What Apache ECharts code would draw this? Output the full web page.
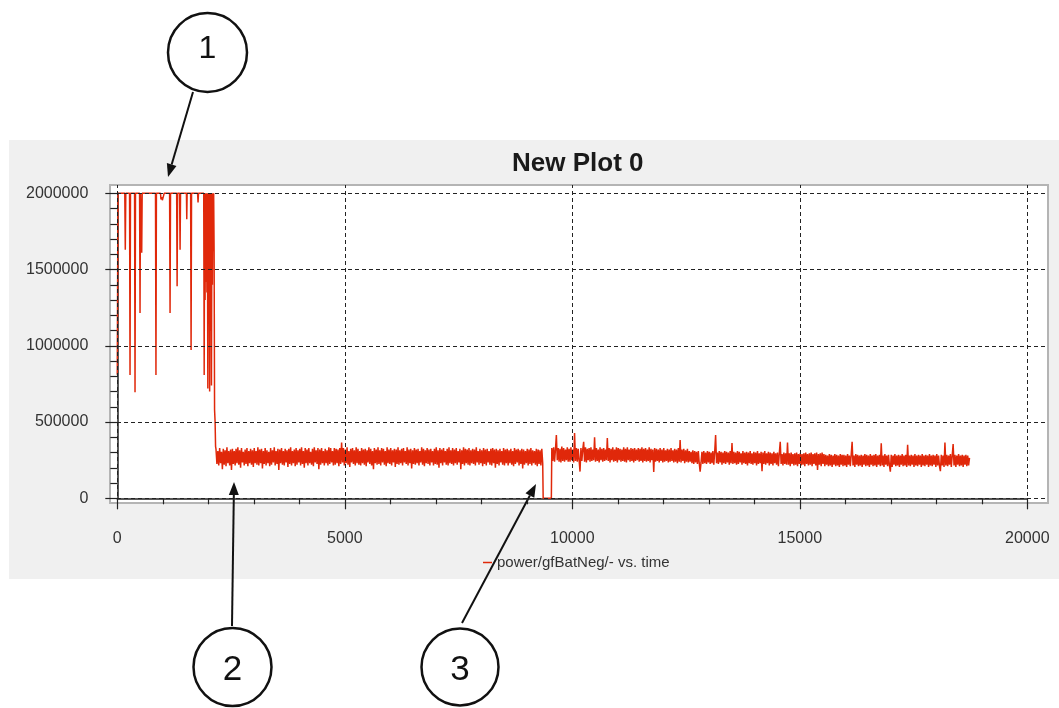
<!DOCTYPE html>
<html><head><meta charset="utf-8">
<script src="https://cdn.jsdelivr.net/npm/echarts@6/dist/echarts.min.js"></script>
<style>html,body{margin:0;padding:0;background:#fff;}#c{width:1059px;height:708px;}</style>
</head><body><div id="c"></div>
<script>
// ---- data ----
const seriesName = 'power/gfBatNeg/- vs. time';
// start-up phase: saturated at 2,000,000 with dips
const rampTime = [0,15,165,176,187,270,280,290,380,390,400,490,500,510,527,537,547,840,850,860,
  950,960,975,990,1005,1020,1030,1150,1160,1170,1305,1315,1325,1370,1380,1390,1520,1527,1535,
  1612,1622,1632,1765,1775,1785,1900,1910,1920,1930,1940,1950,1960,1970,1980,1990,2000,2010,
  2020,2030,2040,2050,2060,2070,2080,2090,2100,2110,2118,2128,2138,2150,2160];
const rampPower = [810000,2000000,2000000,1630000,2000000,2000000,808000,2000000,2000000,695000,2000000,
  2000000,1215000,2000000,2000000,1610000,2000000,2000000,808000,2000000,
  2000000,1960000,1975000,1955000,1970000,1960000,2000000,2000000,1215000,2000000,2000000,1390000,2000000,
  2000000,1630000,2000000,2000000,1830000,2000000,2000000,972000,2000000,2000000,1940000,2000000,
  2000000,808000,2000000,1300000,2000000,1420000,2000000,1350000,2000000,720000,2000000,1300000,
  2000000,700000,2000000,1100000,2000000,740000,2000000,1400000,2000000,1620000,2000000,1620000,580000,500000,340000];
// first noisy phase (samples every 20 time units from 2170), values in thousands
const noiseAStart = 2170;
const noiseAStep = 20;
const noiseAPowerK = [
  320,225,310,215,330,230,305,190,325,220,315,210,335,230,310,215,320,185,325,225,
  310,215,325,230,335,220,315,200,330,235,305,215,320,225,330,210,310,230,325,220,
  315,205,330,230,310,220,335,215,320,230,325,195,310,225,330,215,315,230,305,210,
  330,220,315,235,335,215,310,225,325,185,320,230,330,220,310,215,325,235,315,205,
  325,225,335,215,310,230,320,210,330,220,315,235,325,215,335,225,310,200,330,230,
  320,215,330,230,305,220,325,210,335,235,315,225,330,190,320,220,330,230,310,215,
  325,230,315,215,335,225,330,235,310,215,330,220,325,230,320,210,330,225,365,235,
  330,215,320,230,335,220,310,205,325,235,330,225,315,215,335,230,325,220,310,215,
  330,230,320,220,325,210,315,235,335,225,325,215,310,190,330,230,320,220,335,225,
  315,215,330,235,325,220,310,210,335,230,320,225,330,215,315,235,325,205,320,225,
  335,220,315,230,325,215,330,235,310,225,335,215,320,230,325,195,315,225,330,220,
  320,230,325,215,310,235,335,220,325,210,315,230,330,225,320,215,325,235,310,215,
  325,225,335,220,315,200,330,230,320,215,330,235,310,220,325,215,335,230,315,225,
  330,215,320,230,330,220,310,235,325,190,315,225,335,215,325,230,320,220,330,215,
  315,230,325,225,320,215,335,235,310,220,325,230,315,210,330,225,320,215,325,235,
  310,220,325,215,330,230,320,200,325,225,315,215,325,235,310,220,330,215,320,230,
  325,215,315,230,325,220,310,210,330,225,320,235,325,215,315,225,325,195,320,220,
  310,230,325,215,320,225,330,215,315,230,310,220,325,210,320,225,315,215,325,230];
// drop-out to zero
const gapTime = [9360, 9540];
const gapPower = [0, 0];
// second noisy phase (samples every 20 time units from 9550), values in thousands
const noiseBStart = 9550;
const noiseBStep = 20;
const noiseBPowerK = [
  330,245,335,240,320,415,250,330,240,325,235,340,245,330,240,320,250,335,240,325,
  240,335,250,320,235,428,245,330,240,325,250,175,330,245,320,370,240,335,235,325,
  250,330,240,335,245,320,250,400,240,330,245,320,235,335,250,325,240,330,245,320,
  250,395,245,330,235,325,250,335,240,320,245,335,235,330,250,325,240,320,245,335,
  240,325,235,335,250,320,240,330,245,325,235,330,245,320,250,330,240,325,245,335,
  235,325,245,330,240,320,245,335,235,325,250,320,172,330,240,325,245,320,235,330,
  245,320,235,330,240,315,245,325,235,320,240,330,245,315,235,325,240,320,230,330,
  240,382,235,320,245,325,230,315,240,325,235,310,240,305,230,315,225,310,235,305,
  225,310,230,175,235,305,225,310,230,300,225,310,235,305,225,300,230,310,220,305,
  415,230,300,225,310,235,305,220,300,230,310,225,305,235,300,220,310,230,362,225,
  305,230,300,220,310,225,305,235,295,220,310,230,300,225,305,215,300,230,310,225,
  295,220,305,230,300,215,310,225,295,230,305,178,300,225,310,220,295,230,305,215,
  300,225,295,215,305,230,295,220,300,210,295,370,225,290,215,300,225,295,220,365,
  220,295,210,300,225,290,215,295,220,300,210,290,225,295,215,290,220,295,210,300,
  225,290,215,295,220,300,210,290,225,295,215,300,185,290,220,295,210,300,225,290,
  210,285,220,280,210,290,215,285,205,280,220,290,210,285,215,280,205,290,220,285,
  210,285,215,280,205,290,220,280,210,285,370,215,280,205,290,220,285,210,280,215,
  285,205,280,220,290,210,285,215,280,205,290,220,280,210,285,215,290,205,280,220,
  285,210,360,215,280,205,290,220,280,210,285,215,175,285,205,280,220,290,210,280,
  215,285,205,280,220,290,210,280,215,285,205,350,215,280,210,285,220,280,205,290,
  215,280,210,285,220,280,205,290,215,280,210,285,220,280,205,290,215,280,210,285,
  220,280,205,290,215,280,210,178,285,215,280,205,365,215,285,210,280,220,290,205,
  280,355,215,285,205,280,220,290,210,280,215,285,205,280,220,285,210,280,215,265];
const xTicks = [0, 5000, 10000, 15000, 20000];
const yTicks = [0, 500000, 1000000, 1500000, 2000000];

// ---- build series data ----
const data = [];
rampTime.forEach((t, i) => data.push([t, rampPower[i]]));
noiseAPowerK.forEach((v, i) => data.push([noiseAStart + i * noiseAStep, v * 1000]));
gapTime.forEach((t, i) => data.push([t, gapPower[i]]));
noiseBPowerK.forEach((v, i) => data.push([noiseBStart + i * noiseBStep, v * 1000]));

const FONT = '"Liberation Sans", Arial, sans-serif';
const RED = '#e0280a';

function arrow(x1, y1, x2, y2) {
  const dx = x2 - x1, dy = y2 - y1, len = Math.hypot(dx, dy);
  const ux = dx / len, uy = dy / len, nx = -uy, ny = ux;
  const L = 13, W = 5;
  const bx = x2 - L * ux, by = y2 - L * uy;
  return [
    { type: 'line', shape: { x1, y1, x2: bx, y2: by }, style: { stroke: '#111', lineWidth: 2 } },
    { type: 'polygon', shape: { points: [[x2, y2], [bx + W * nx, by + W * ny], [bx - W * nx, by - W * ny]] },
      style: { fill: '#111' } }
  ];
}
function bubble(cx, cy, r, label, fs, ty) {
  return [
    { type: 'circle', shape: { cx, cy, r }, style: { fill: '#fff', stroke: '#111', lineWidth: 2.5 } },
    { type: 'text', x: cx, y: ty, style: { text: label, font: fs + 'px ' + FONT, fill: '#111',
      align: 'center', verticalAlign: 'middle' } }
  ];
}
const plain = v => String(v);

const chart = echarts.init(document.getElementById('c'));
chart.setOption({
  animation: false,
  backgroundColor: '#fff',
  textStyle: { fontFamily: FONT },
  title: {
    text: 'New Plot 0', left: 512, top: 151, padding: 0,
    textStyle: { fontSize: 26, fontWeight: 'bold', color: '#1a1a1a', fontFamily: FONT }
  },
  legend: {
    data: [seriesName], left: 483, top: 555, icon: 'rect', itemWidth: 9, itemHeight: 1.5,
    selectedMode: false, padding: 0,
    textStyle: { fontSize: 15, color: '#333', fontFamily: FONT }
  },
  grid: [
    { left: 110, right: 11, top: 185, bottom: 205, show: true, backgroundColor: '#fff',
      borderColor: '#b4b4b4', borderWidth: 2, containLabel: false },
    { left: 117.3, right: 31.7, top: 193.3, bottom: 209.7, show: false, containLabel: false }
  ],
  xAxis: [
    { type: 'value', gridIndex: 0, min: -160, max: 20455, show: false },
    { type: 'value', gridIndex: 1, min: 0, max: 20000, interval: 5000, offset: 14, position: 'bottom',
      axisLine: { show: true, lineStyle: { color: '#222', width: 1.5 } },
      axisTick: { show: true, length: 11, lineStyle: { color: '#222', width: 1.2 } },
      minorTick: { show: true, splitNumber: 5, length: 6, lineStyle: { color: '#222', width: 1.2 } },
      splitLine: { show: false }, minorSplitLine: { show: false },
      axisLabel: { fontSize: 16, color: '#333', margin: 18, fontFamily: FONT, formatter: plain } }
  ],
  yAxis: [
    { type: 'value', gridIndex: 0, min: -31000, max: 2054500, show: false },
    { type: 'value', gridIndex: 1, min: 0, max: 2000000, interval: 500000, offset: 10, position: 'left',
      axisLine: { show: true, lineStyle: { color: '#222', width: 1.5 } },
      axisTick: { show: true, length: 12, lineStyle: { color: '#222', width: 1.2 } },
      minorTick: { show: true, splitNumber: 5, length: 7, lineStyle: { color: '#222', width: 1.2 } },
      splitLine: { show: false }, minorSplitLine: { show: false },
      axisLabel: { fontSize: 16, color: '#333', margin: 19, fontFamily: FONT, formatter: plain } }
  ],
  series: [
    { type: 'line', name: 'grid', xAxisIndex: 0, yAxisIndex: 0, data: [], z: 1, silent: true,
      markLine: { silent: true, symbol: 'none', label: { show: false },
        lineStyle: { type: [4, 3], color: '#222', width: 1 },
        data: xTicks.map(v => ({ xAxis: v })).concat(yTicks.map(v => ({ yAxis: v }))) } },
    { type: 'line', name: seriesName, xAxisIndex: 0, yAxisIndex: 0, data: data, z: 3,
      symbol: 'none', showSymbol: false,
      lineStyle: { color: RED, width: 1.5 }, itemStyle: { color: RED } }
  ],
  graphic: [
    { type: 'rect', z: -100, silent: true, shape: { x: 9, y: 140, width: 1050, height: 439 },
      style: { fill: '#f0f0f0' } },
    ...bubble(207.5, 52.5, 39.5, '1', 32, 49),
    ...arrow(193, 92, 168, 177),
    ...bubble(232.5, 667, 39, '2', 35, 670),
    ...arrow(232, 626, 234, 482),
    ...bubble(460, 667, 38.5, '3', 35, 670),
    ...arrow(462, 623, 536, 484)
  ]
});
</script></body></html>
